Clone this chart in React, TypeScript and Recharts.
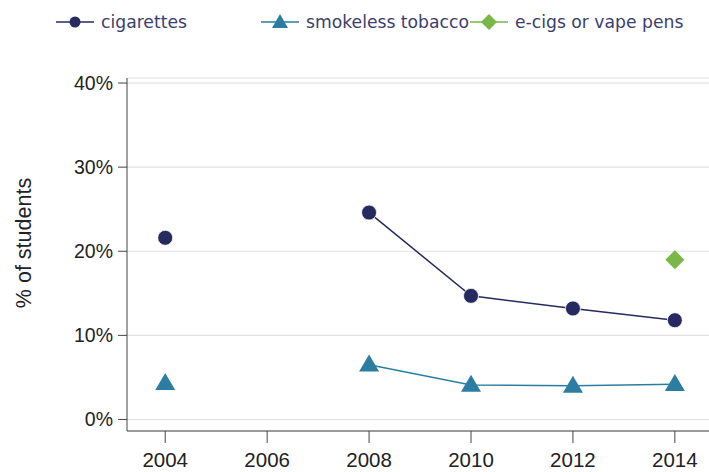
import React from 'react';
import { LineChart, Line, XAxis, YAxis, CartesianGrid, Label } from 'recharts';

const years = [2004, 2006, 2008, 2010, 2012, 2014];
const cigarettes = [21.6, null, 24.6, 14.7, 13.2, 11.8];
const smokeless = [4.3, null, 6.5, 4.1, 4.0, 4.2];
const ecigs = [null, null, null, null, null, 19.0];
const yTicks = [0, 10, 20, 30, 40];

const NAVY = '#262a5e';
const TEAL = '#2b7ea1';
const GREEN = '#7ab648';

const data = years.map((year, i) => ({
  year,
  cigarettes: cigarettes[i],
  smokeless: smokeless[i],
  ecigs: ecigs[i],
}));

const CircleDot = (props: any) => {
  const { cx, cy, value } = props;
  if (value == null || cx == null || cy == null) return null;
  return <circle cx={cx} cy={cy} r={7.5} fill={NAVY} stroke="#fff" strokeWidth={0.8} />;
};

const TriangleDot = (props: any) => {
  const { cx, cy, value } = props;
  if (value == null || cx == null || cy == null) return null;
  const w = 10, h = 17;
  return <path d={`M${cx},${cy - h * 0.6} L${cx + w},${cy + h * 0.4} L${cx - w},${cy + h * 0.4} Z`} fill={TEAL} />;
};

const DiamondDot = (props: any) => {
  const { cx, cy, value } = props;
  if (value == null || cx == null || cy == null) return null;
  const s = 9.5;
  return <path d={`M${cx},${cy - s} L${cx + s},${cy} L${cx},${cy + s} L${cx - s},${cy} Z`} fill={GREEN} />;
};

const legendItems = [
  { label: 'cigarettes', color: NAVY, shape: 'circle', x: 56 },
  { label: 'smokeless tobacco', color: TEAL, shape: 'triangle', x: 261 },
  { label: 'e-cigs or vape pens', color: GREEN, shape: 'diamond', x: 470 },
];

const LegendIcon = ({ color, shape }: { color: string; shape: string }) => (
  <svg width={38} height={20} style={{ display: 'block' }}>
    <line x1={0} y1={10} x2={38} y2={10} stroke={color} strokeWidth={1.5} />
    {shape === 'circle' && <circle cx={19} cy={10} r={5.5} fill={color} />}
    {shape === 'triangle' && <path d="M19,2 L27,16 L11,16 Z" fill={color} />}
    {shape === 'diamond' && <path d="M19,2 L27,10 L19,18 L11,10 Z" fill={color} />}
  </svg>
);

const YLabel = () => (
  <text
    x={24}
    y={243}
    transform="rotate(-90 24 243)"
    textAnchor="middle"
    dominantBaseline="central"
    fontFamily="'Liberation Sans', Arial, sans-serif"
    fontSize={21.5}
    fill="#222"
  >
    % of students
  </text>
);

export default function App() {
  return (
    <div style={{ position: 'absolute', left: 0, top: 0, width: 709, height: 472, background: '#fff' }}>
      {legendItems.map((item) => (
        <div
          key={item.label}
          style={{
            position: 'absolute',
            left: item.x,
            top: 12,
            display: 'flex',
            alignItems: 'center',
            gap: 7,
            fontFamily: "'DejaVu Sans', sans-serif",
            fontSize: 17.2,
            color: '#3b3e6c',
            whiteSpace: 'nowrap',
          }}
        >
          <LegendIcon color={item.color} shape={item.shape} />
          <span>{item.label}</span>
        </div>
      ))}
      <LineChart width={709} height={472} data={data} margin={{ top: 78, right: 0, bottom: 0, left: 0 }}>
        <CartesianGrid vertical={false} stroke="#e2e2e2" strokeWidth={1.2} />
        <XAxis
          dataKey="year"
          type="number"
          domain={[2003.25, 2014.67]}
          ticks={years}
          allowDataOverflow
          height={41}
          tickSize={12}
          tickMargin={9}
          stroke="#444"
          tick={{ fill: '#222', fontSize: 20.5, fontFamily: "'Liberation Sans', Arial, sans-serif" }}
        />
        <YAxis
          type="number"
          domain={[-1.37, 40.6]}
          ticks={yTicks}
          allowDataOverflow
          width={127}
          tickSize={9}
          tickMargin={5}
          stroke="#444"
          tickFormatter={(v: number) => `${v}%`}
          tick={{ fill: '#222', fontSize: 19.5, fontFamily: "'Liberation Sans', Arial, sans-serif" }}
        >
          <Label content={<YLabel />} />
        </YAxis>
        <Line
          dataKey="cigarettes"
          stroke={NAVY}
          strokeWidth={1.5}
          dot={<CircleDot />}
          activeDot={false}
          isAnimationActive={false}
        />
        <Line
          dataKey="smokeless"
          stroke={TEAL}
          strokeWidth={1.5}
          dot={<TriangleDot />}
          activeDot={false}
          isAnimationActive={false}
        />
        <Line
          dataKey="ecigs"
          stroke={GREEN}
          strokeWidth={1.5}
          dot={<DiamondDot />}
          activeDot={false}
          isAnimationActive={false}
        />
      </LineChart>
    </div>
  );
}
